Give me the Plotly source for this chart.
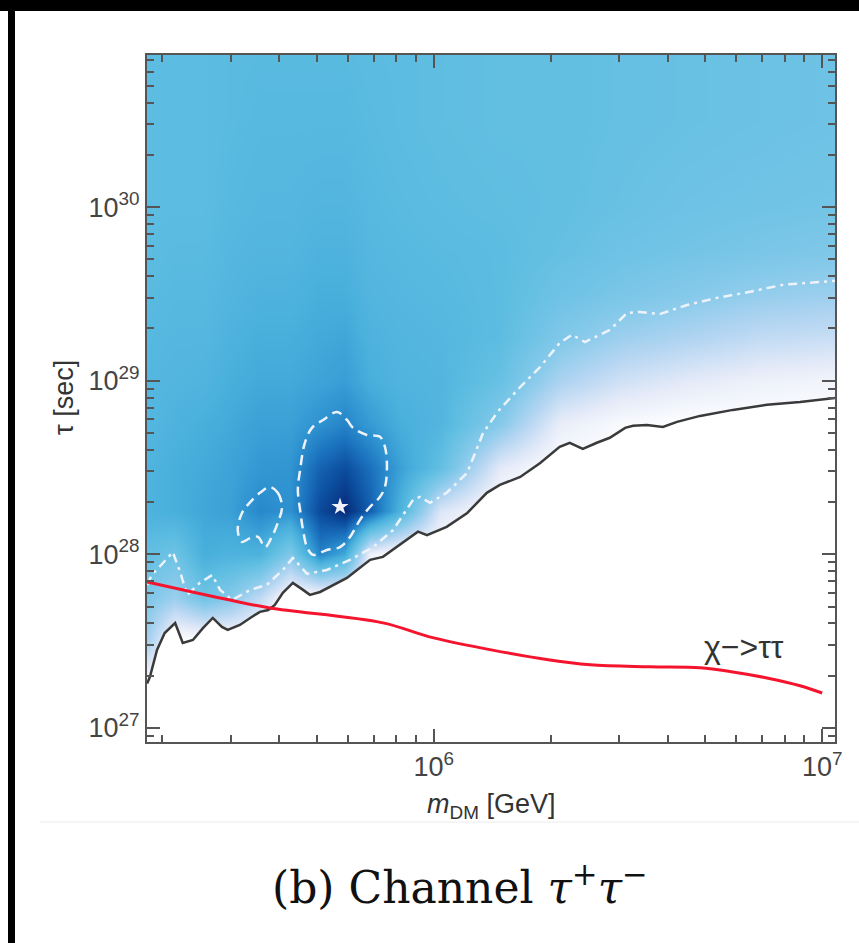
import plotly.graph_objects as go

# ---------------- data ----------------
X_RANGE = [5.262, 7.033]      # log10(m_DM / GeV)
Y_RANGE = [26.919, 30.876]    # log10(tau / s)

x_tickvals = [1e6, 1e7]
x_ticktext = ["10<sup>6</sup>", "10<sup>7</sup>"]
y_tickvals = [1e27, 1e28, 1e29, 1e30]
y_ticktext = ["10<sup>27</sup>", "10<sup>28</sup>", "10<sup>29</sup>", "10<sup>30</sup>"]
x_minor = [2e5, 3e5, 4e5, 5e5, 6e5, 7e5, 8e5, 9e5, 2e6, 3e6, 4e6, 5e6, 6e6, 7e6, 8e6, 9e6]
y_minor = [float(m) * 10.0 ** e for e in (26, 27, 28, 29, 30) for m in range(2, 10)]

# lower bound (black solid line)
bound_m = [1.83e5, 1.86e5, 1.94e5, 2.03e5, 2.16e5, 2.26e5, 2.40e5, 2.55e5, 2.70e5, 2.85e5,
           2.95e5, 3.17e5, 3.37e5, 3.57e5, 3.75e5, 3.90e5, 4.09e5, 4.34e5, 4.61e5, 4.80e5,
           5.10e5, 5.51e5, 5.98e5, 6.35e5, 6.86e5, 7.40e5, 8.04e5, 8.54e5, 9.11e5, 9.61e5,
           1.08e6, 1.22e6, 1.37e6, 1.48e6, 1.67e6, 1.88e6, 2.11e6, 2.24e6, 2.42e6, 2.63e6,
           2.84e6, 3.11e6, 3.26e6, 3.54e6, 3.89e6, 4.23e6, 4.85e6, 5.89e6, 7.21e6, 8.77e6, 1.08e7]
bound_tau = [1.8e27, 1.97e27, 2.81e27, 3.52e27, 4.02e27, 3.09e27, 3.21e27, 3.77e27, 4.30e27, 3.82e27,
             3.67e27, 3.92e27, 4.30e27, 4.66e27, 4.78e27, 5.11e27, 6.00e27, 6.85e27, 6.24e27, 5.84e27,
             6.07e27, 6.67e27, 7.31e27, 8.13e27, 9.29e27, 9.67e27, 1.10e28, 1.21e28, 1.35e28, 1.29e28,
             1.44e28, 1.73e28, 2.26e28, 2.51e28, 2.79e28, 3.36e28, 4.16e28, 4.39e28, 4.05e28, 4.39e28,
             4.69e28, 5.35e28, 5.50e28, 5.56e28, 5.42e28, 5.79e28, 6.27e28, 6.79e28, 7.26e28, 7.55e28, 7.96e28]

# chi -> tau tau (red line)
red_m = [1.83e5, 2.99e5, 3.79e5, 7.40e5, 1.0e6, 1.99e6, 2.53e6, 3.60e6, 4.85e6, 5.89e6, 7.21e6, 8.77e6, 1.0e7]
red_tau = [6.93e27, 5.45e27, 4.91e27, 4.03e27, 3.30e27, 2.46e27, 2.31e27, 2.25e27, 2.22e27, 2.10e27,
           1.94e27, 1.75e27, 1.59e27]

# dash-dot white contour
dd_m = [1.83e5, 1.88e5, 2.01e5, 2.13e5, 2.22e5, 2.32e5, 2.50e5, 2.69e5, 2.82e5, 3.03e5,
        3.37e5, 3.72e5, 4.09e5, 4.34e5, 4.72e5, 5.31e5, 6.09e5, 6.98e5, 7.86e5, 8.85e5,
        9.22e5, 9.78e5, 1.08e6, 1.22e6, 1.34e6, 1.46e6, 1.67e6, 1.88e6, 2.11e6, 2.27e6,
        2.45e6, 2.84e6, 3.15e6, 3.40e6, 3.82e6, 4.49e6, 5.36e6, 6.52e6, 7.93e6, 1.08e7]
dd_tau = [6.67e27, 7.60e27, 8.91e27, 1.03e28, 8.02e27, 5.84e27, 6.85e27, 7.60e27, 6.24e27, 5.46e27,
          6.24e27, 6.67e27, 8.13e27, 9.53e27, 7.71e27, 8.13e27, 9.29e27, 1.10e28, 1.38e28, 2.06e28,
          2.14e28, 1.98e28, 2.26e28, 2.95e28, 5.00e28, 6.61e28, 9.20e28, 1.20e29, 1.65e29, 1.84e29,
          1.67e29, 1.96e29, 2.46e29, 2.49e29, 2.42e29, 2.73e29, 3.00e29, 3.25e29, 3.57e29, 3.76e29]

# dashed closed contours
big_m = [5.64e5, 5.98e5, 6.20e5, 6.73e5, 7.27e5, 7.49e5, 7.58e5, 7.49e5, 7.27e5, 6.86e5, 6.46e5, 6.09e5,
         5.74e5, 5.31e5, 4.89e5, 4.72e5, 4.61e5, 4.53e5, 4.47e5, 4.53e5, 4.66e5, 4.86e5, 5.19e5, 5.64e5]
big_tau = [6.61e28, 5.94e28, 5.35e28, 4.87e28, 4.75e28, 4.16e28, 3.19e28, 2.44e28, 2.14e28, 1.88e28,
           1.58e28, 1.26e28, 1.10e28, 1.06e28, 9.93e27, 1.10e28, 1.38e28, 1.80e28, 2.35e28, 3.06e28,
           4.39e28, 5.35e28, 5.94e28, 6.61e28]
small_m = [3.79e5, 3.97e5, 4.07e5, 3.97e5, 3.83e5, 3.68e5, 3.53e5, 3.37e5, 3.21e5, 3.13e5, 3.21e5,
           3.37e5, 3.57e5, 3.79e5]
small_tau = [2.44e28, 2.26e28, 1.88e28, 1.52e28, 1.26e28, 1.10e28, 1.26e28, 1.24e28, 1.18e28, 1.38e28,
             1.73e28, 2.00e28, 2.26e28, 2.44e28]

best_m = [5.74e5]
best_tau = [1.88e28]

hm_m = [1.83e5, 2.16e5, 2.57e5, 2.99e5, 3.57e5, 4.27e5, 5.10e5, 5.91e5, 6.86e5, 8.19e5,
        1.04e6, 1.48e6, 2.11e6, 3.02e6, 4.57e6, 6.92e6, 1.07e7]
hm_tau = [1.0e27, 1.78e27, 3.16e27, 5.62e27, 1.0e28, 1.78e28, 3.16e28, 5.62e28, 1.0e29,
          1.78e29, 3.16e29, 5.62e29, 1.0e30, 3.16e30, 1.0e31]
hm_z = [
    [0, 0, 0, 0, 0, 0, 0, 0, 0, 0, 0, 0, 0, 0, 0, 0, 0],
    [0, 0, 0, 0, 0, 0, 0, 0, 0, 0, 0, 0, 0, 0, 0, 0, 0],
    [.30, 0, 0, 0, 0, 0, 0, 0, 0, 0, 0, 0, 0, 0, 0, 0, 0],
    [.40, .32, .45, .38, .22, 0, 0, 0, 0, 0, 0, 0, 0, 0, 0, 0, 0],
    [.50, .46, .60, .58, .58, .40, .74, .62, .08, 0, 0, 0, 0, 0, 0, 0, 0],
    [.58, .60, .63, .65, .73, .70, .91, 1.0, .85, .58, .15, 0, 0, 0, 0, 0, 0],
    [.57, .60, .62, .64, .68, .69, .84, .90, .80, .65, .50, .12, 0, 0, 0, 0, 0],
    [.55, .58, .60, .62, .65, .65, .70, .74, .67, .60, .56, .38, .10, .03, 0, 0, 0],
    [.55, .56, .57, .60, .62, .62, .64, .66, .60, .57, .56, .48, .28, .18, .12, .08, .06],
    [.54, .55, .55, .58, .60, .60, .62, .63, .58, .56, .55, .52, .40, .32, .27, .22, .20],
    [.53, .54, .54, .56, .58, .58, .60, .60, .56, .55, .54, .52, .46, .42, .38, .34, .32],
    [.52, .53, .53, .55, .56, .56, .58, .58, .55, .54, .53, .52, .49, .46, .44, .42, .40],
    [.52, .52, .52, .54, .55, .55, .56, .56, .54, .53, .52, .51, .50, .48, .46, .45, .44],
    [.52, .52, .52, .53, .54, .54, .54, .54, .53, .52, .51, .50, .50, .49, .48, .47, .46],
    [.52, .52, .52, .53, .53, .53, .53, .53, .52, .52, .51, .50, .50, .49, .48, .47, .46],
]

colorscale = [
    [0.0, "#ffffff"], [0.12, "#e4eaf8"], [0.25, "#b6d6f2"], [0.38, "#85c9ea"],
    [0.5, "#62bfe2"], [0.6, "#48afdc"], [0.7, "#2e92d0"], [0.8, "#1a70bc"],
    [0.9, "#0c4d9e"], [1.0, "#072a78"],
]

# ---------------- layout geometry ----------------
W, H = 859, 943
ML, MR, MT, MB = 147, 24, 55, 201
PW, PH = W - ML - MR, H - MT - MB


def px2paper_x(px):
    return (px - ML) / PW


def px2paper_y(py):
    return (H - MB - py) / PH


fig = go.Figure()

fig.add_trace(go.Heatmap(x=hm_m, y=hm_tau, z=hm_z, colorscale=colorscale, zmin=0, zmax=1,
                         zsmooth="best", showscale=False, hoverinfo="skip"))

# white excluded region under the bound
floor_tau = 10.0 ** (Y_RANGE[0] - 0.5)
fig.add_trace(go.Scatter(x=bound_m, y=[floor_tau] * len(bound_m), mode="lines",
                         line=dict(width=0, color="white"), showlegend=False, hoverinfo="skip"))
fig.add_trace(go.Scatter(x=bound_m, y=bound_tau, mode="lines", fill="tonexty", fillcolor="white",
                         line=dict(width=0, color="white"), showlegend=False, hoverinfo="skip"))

line_white = "#eef3fb"
fig.add_trace(go.Scatter(x=dd_m, y=dd_tau, mode="lines",
                         line=dict(color=line_white, width=2.5, dash="9px,5px,3px,5px"),
                         showlegend=False))
fig.add_trace(go.Scatter(x=big_m, y=big_tau, mode="lines",
                         line=dict(color=line_white, width=2.5, dash="10px,6px", shape="spline"),
                         showlegend=False))
fig.add_trace(go.Scatter(x=small_m, y=small_tau, mode="lines",
                         line=dict(color=line_white, width=2.5, dash="10px,6px", shape="spline"),
                         showlegend=False))
fig.add_trace(go.Scatter(x=bound_m, y=bound_tau, mode="lines",
                         line=dict(color="#3a3a3a", width=2.5), showlegend=False))
fig.add_trace(go.Scatter(x=red_m, y=red_tau, mode="lines",
                         line=dict(color="#f5142d", width=3, shape="spline"), showlegend=False))
fig.add_trace(go.Scatter(x=best_m, y=best_tau, mode="markers",
                         marker=dict(symbol="star", size=13, color="#f2f2ff", line=dict(width=0)),
                         showlegend=False))

tickfont = dict(family="Liberation Sans, Arial, sans-serif", size=27, color="#444444")
axis_common = dict(type="log", showgrid=False, zeroline=False, showline=True, linecolor="#555555",
                   linewidth=2, mirror="ticks", ticks="inside", ticklen=13, tickwidth=2,
                   tickcolor="#555555", tickfont=tickfont, tickmode="array")

fig.update_xaxes(range=X_RANGE, tickvals=x_tickvals, ticktext=x_ticktext,
                 minor=dict(tickvals=x_minor, ticks="inside", ticklen=7, tickwidth=1.5,
                            tickcolor="#555555"), **axis_common)
fig.update_yaxes(range=Y_RANGE, tickvals=y_tickvals, ticktext=y_ticktext,
                 minor=dict(tickvals=y_minor, ticks="inside", ticklen=7, tickwidth=1.5,
                            tickcolor="#555555"), **axis_common)

label_font = dict(family="Liberation Sans, Arial", size=27, color="#333333")
annotations = [
    dict(text="τ [sec]", x=px2paper_x(64), y=px2paper_y(398), textangle=-90, showarrow=False,
         xref="paper", yref="paper", xanchor="center", yanchor="middle", font=label_font),
    dict(text="<i>m</i><sub>DM</sub> [GeV]", x=px2paper_x(491), y=px2paper_y(806), showarrow=False,
         xref="paper", yref="paper", xanchor="center", yanchor="middle", font=label_font),
    dict(text="χ−>ττ", x=6.8, y=27.467, xref="x", yref="y", showarrow=False,
         xanchor="center", yanchor="middle",
         font=dict(family="Liberation Sans, Arial", size=32, color="#333333")),
    dict(text="(b) Channel <i>τ</i><sup>+</sup><i>τ</i><sup>−</sup>", x=px2paper_x(460),
         y=px2paper_y(884), xref="paper", yref="paper", showarrow=False,
         xanchor="center", yanchor="middle",
         font=dict(family="DejaVu Serif, serif", size=44, color="#111111")),
]

shapes = [
    dict(type="rect", xref="paper", yref="paper", x0=px2paper_x(0), x1=px2paper_x(W),
         y0=px2paper_y(11), y1=px2paper_y(0), fillcolor="black", line=dict(width=0), layer="above"),
    dict(type="rect", xref="paper", yref="paper", x0=px2paper_x(8), x1=px2paper_x(15),
         y0=px2paper_y(H), y1=px2paper_y(0), fillcolor="black", line=dict(width=0), layer="above"),
    dict(type="line", xref="paper", yref="paper", x0=px2paper_x(40), x1=px2paper_x(W),
         y0=px2paper_y(822), y1=px2paper_y(822), line=dict(color="#ececec", width=1)),
]

fig.update_layout(width=W, height=H, margin=dict(l=ML, r=MR, t=MT, b=MB, autoexpand=False),
                  paper_bgcolor="white", plot_bgcolor="white", showlegend=False,
                  annotations=annotations, shapes=shapes)

fig.write_html("out.html")
